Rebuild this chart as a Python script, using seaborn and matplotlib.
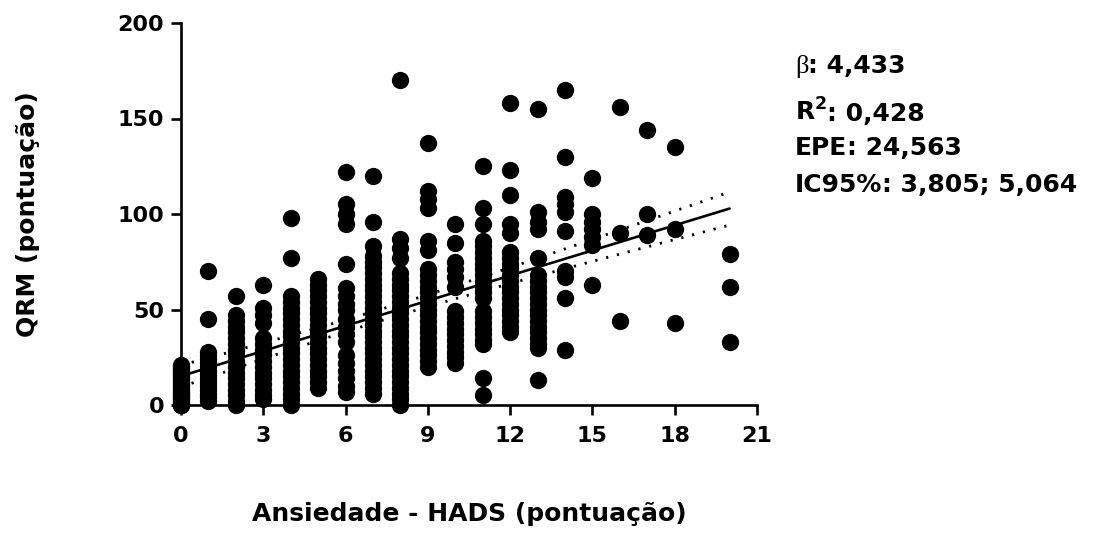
import numpy as np
import pandas as pd
import matplotlib
matplotlib.use("Agg")
import matplotlib.pyplot as plt
import seaborn as sns

# HADS anxiety scores (x) and the QRM scores recorded at each of them (y)
hads_scores = [0, 1, 2, 3, 4, 5, 6, 7, 8, 9, 10, 11, 12, 13, 14, 15, 16, 17, 18, 20]

qrm_hads_0 = [0, 0, 0, 1, 2, 3, 4, 5, 6, 7, 8, 9, 10, 11, 12, 13, 14, 15, 16, 17, 18, 19, 20, 21]
qrm_hads_1 = [70, 45, 28, 26, 24, 22, 20, 18, 16, 14, 12, 10, 8, 6, 4, 2]
qrm_hads_2 = [57, 47, 44, 41, 38, 35, 32, 29, 26, 23, 20, 17, 14, 11, 8, 5, 2, 0]
qrm_hads_3 = [63, 51, 47, 43, 35, 32, 29, 26, 23, 20, 17, 14, 11, 8, 5, 3]
qrm_hads_4 = [98, 77, 57, 54, 51, 48, 45, 42, 39, 36, 33, 30, 27, 24, 21, 18, 15, 12, 9, 6, 3, 0]
qrm_hads_5 = [66, 63, 60, 57, 54, 51, 48, 45, 42, 39, 36, 33, 30, 27, 24, 21, 18, 15, 12, 9]
qrm_hads_6 = [122, 105, 100, 95, 74, 61, 57, 53, 50, 45, 41, 37, 33, 26, 22, 18, 14, 10, 7]
qrm_hads_7 = [120, 96, 83, 78, 75, 72, 69, 66, 63, 60, 57, 54, 51, 48, 45, 42, 39, 36, 33,
              30, 27, 24, 21, 18, 15, 12, 9, 6]
qrm_hads_8 = [170, 87, 82, 77, 69, 66, 63, 60, 57, 54, 51, 48, 45, 42, 39, 36, 33, 30, 27,
              24, 21, 18, 15, 12, 9, 6, 3, 0]
qrm_hads_9 = [137, 112, 108, 103, 86, 81, 71, 68, 65, 62, 59, 56, 53, 50, 47, 44, 41, 38,
              35, 32, 29, 26, 23, 20]
qrm_hads_10 = [95, 85, 75, 71, 67, 62, 49, 46, 43, 40, 37, 34, 31, 28, 25, 22]
qrm_hads_11 = [125, 103, 95, 86, 83, 80, 77, 74, 71, 68, 65, 62, 59, 56, 49, 46, 43, 40,
               37, 34, 32, 14, 5]
qrm_hads_12 = [158, 123, 110, 95, 90, 80, 77, 74, 71, 68, 65, 62, 59, 56, 53, 50, 47, 44, 41, 38]
qrm_hads_13 = [155, 101, 96, 92, 77, 68, 65, 62, 59, 56, 53, 50, 47, 44, 41, 38, 35, 32, 30, 13]
qrm_hads_14 = [165, 130, 109, 105, 101, 91, 70, 67, 56, 29]
qrm_hads_15 = [119, 100, 96, 92, 88, 84, 63]
qrm_hads_16 = [156, 90, 44]
qrm_hads_17 = [144, 100, 89]
qrm_hads_18 = [135, 92, 43]
qrm_hads_20 = [79, 62, 33]

qrm_columns = [qrm_hads_0, qrm_hads_1, qrm_hads_2, qrm_hads_3, qrm_hads_4, qrm_hads_5,
               qrm_hads_6, qrm_hads_7, qrm_hads_8, qrm_hads_9, qrm_hads_10, qrm_hads_11,
               qrm_hads_12, qrm_hads_13, qrm_hads_14, qrm_hads_15, qrm_hads_16,
               qrm_hads_17, qrm_hads_18, qrm_hads_20]

x_ticks = [0, 3, 6, 9, 12, 15, 18, 21]
y_ticks = [0, 50, 100, 150, 200]

stat_lines = [("β", ": 4,433"), (r"R$^{\mathbf{2}}$", ": 0,428"), ("EPE", ": 24,563"),
              ("IC95%", ": 3,805; 5,064")]

x_label = "Ansiedade - HADS (pontuação)"
y_label = "QRM (pontuação)"

rows = [(h, q) for h, col in zip(hads_scores, qrm_columns) for q in col]
df = pd.DataFrame(rows, columns=["hads", "qrm"])

sns.set_theme(style="ticks")
plt.rcParams["font.family"] = ["DejaVu Sans"]
plt.rcParams["text.color"] = "black"
plt.rcParams["axes.labelcolor"] = "black"
plt.rcParams["xtick.color"] = "black"
plt.rcParams["ytick.color"] = "black"

W, H = 1095, 552
fig = plt.figure(figsize=(W / 100, H / 100), dpi=100)
ax = fig.add_axes([181 / W, 1 - 405 / H, 576 / W, 382 / H])

sns.scatterplot(data=df, x="hads", y="qrm", ax=ax, s=155, color="black",
                edgecolor="black", linewidth=0, clip_on=False, zorder=4, legend=False)

# ordinary least squares fit with its 95% confidence band
xv = df["hads"].to_numpy(float)
yv = df["qrm"].to_numpy(float)
slope, intercept = np.polyfit(xv, yv, 1)
n = len(xv)
resid = yv - (intercept + slope * xv)
s_err = np.sqrt(resid @ resid / (n - 2))
x_mean = xv.mean()
sxx = ((xv - x_mean) ** 2).sum()
xf = np.linspace(xv.min(), xv.max(), 200)
yf = intercept + slope * xf
half = 1.96 * s_err * np.sqrt(1 / n + (xf - x_mean) ** 2 / sxx)
fit = pd.DataFrame({"x": xf, "fit": yf, "lo": yf - half, "hi": yf + half})

sns.lineplot(data=fit, x="x", y="fit", ax=ax, color="black", lw=1.9, zorder=5)
for col in ["lo", "hi"]:
    sns.lineplot(data=fit, x="x", y=col, ax=ax, color="black", lw=2.0,
                 linestyle=(0, (0.8, 3.2)), zorder=5)

ax.set_xlim(0, 21)
ax.set_ylim(0, 200)
ax.set_xticks(x_ticks)
ax.set_yticks(y_ticks)
ax.set_xlabel("")
ax.set_ylabel("")
sns.despine(ax=ax)
for side in ["left", "bottom"]:
    ax.spines[side].set_linewidth(1.9)
    ax.spines[side].set_color("black")
ax.tick_params(axis="both", width=1.9, length=7, labelsize=16, colors="black")
ax.tick_params(axis="y", pad=5)
ax.tick_params(axis="x", pad=8)
for lab in ax.get_xticklabels() + ax.get_yticklabels():
    lab.set_fontweight("bold")

fig.text(469 / W, 1 - 514 / H, x_label, ha="center", va="center",
         fontsize=18, fontweight="bold", color="black")
fig.text(28 / W, 1 - 214 / H, y_label, ha="center", va="center", rotation=90,
         fontsize=18, fontweight="bold", color="black")

# regression summary to the right of the plot
baselines = [73, 121, 155, 192]
fig.canvas.draw()
renderer = fig.canvas.get_renderer()
for (head, tail), base in zip(stat_lines, baselines):
    if head == "β":
        t = fig.text(795 / W, 1 - base / H, head, family="Liberation Serif",
                     fontsize=19, va="baseline", ha="left", color="black")
    else:
        t = fig.text(795 / W, 1 - base / H, head, fontsize=18, fontweight="bold",
                     va="baseline", ha="left", color="black")
    bb = t.get_window_extent(renderer)
    fig.text(bb.x1 / W, 1 - base / H, tail, fontsize=18, fontweight="bold",
             va="baseline", ha="left", color="black")

fig.savefig("out.png", dpi=100)
